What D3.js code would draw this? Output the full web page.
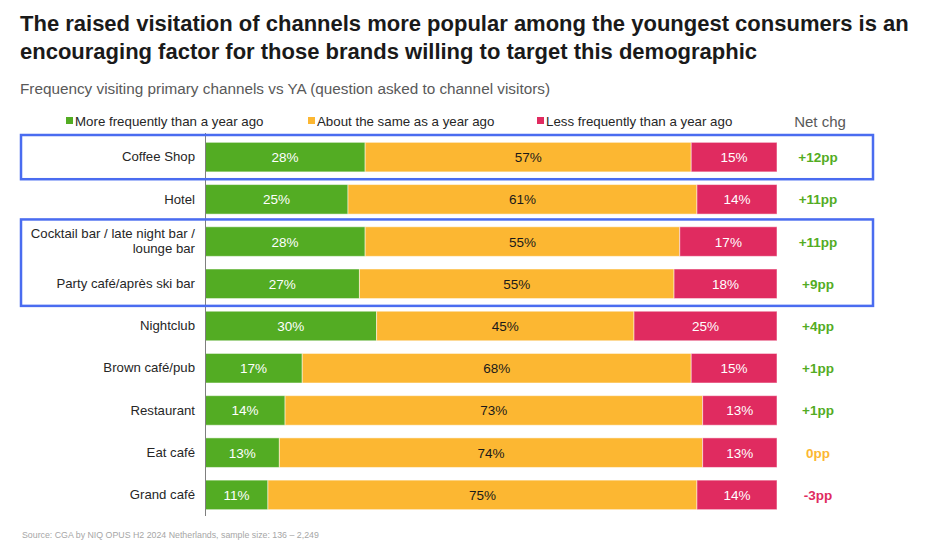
<!DOCTYPE html>
<html>
<head>
<meta charset="utf-8">
<script src="https://cdn.jsdelivr.net/npm/d3@7"></script>
<style>
  body { margin: 0; background: #fff; }
  svg { font-family: "Liberation Sans", Arial, sans-serif; }
</style>
</head>
<body>
<svg class="chart" width="932" height="545"></svg>
<script>
const channels = ['Coffee Shop', 'Hotel', 'Cocktail bar / late night bar / lounge bar',
  'Party café/après ski bar', 'Nightclub', 'Brown café/pub', 'Restaurant', 'Eat café', 'Grand café'];
const moreFreq = [28, 25, 28, 27, 30, 17, 14, 13, 11];
const sameFreq = [57, 61, 55, 55, 45, 68, 73, 74, 75];
const lessFreq = [15, 14, 17, 18, 25, 15, 13, 13, 14];
const netChg = [12, 11, 11, 9, 4, 1, 1, 0, -3];
const seriesNames = ['More frequently than a year ago', 'About the same as a year ago', 'Less frequently than a year ago'];
const highlighted = [['Coffee Shop', 'Coffee Shop'], ['Cocktail bar / late night bar / lounge bar', 'Party café/après ski bar']];

const colors = ['#53ac23', '#fcb732', '#e02b60'];
const svg = d3.select('.chart');

// title + subtitle
const title = svg.append('text').attr('x', 20).attr('font-weight', 'bold')
  .attr('font-size', 22).attr('fill', '#1a1a1a');
title.append('tspan').attr('x', 20).attr('y', 31)
  .text('The raised visitation of channels more popular among the youngest consumers is an');
title.append('tspan').attr('x', 20).attr('y', 59)
  .text('encouraging factor for those brands willing to target this demographic');

svg.append('text').attr('x', 20).attr('y', 94).attr('font-size', 15.3).attr('fill', '#595959')
  .text('Frequency visiting primary channels vs YA (question asked to channel visitors)');

// rows
const rows = channels.map((c, i) => ({channel: c, vals: [moreFreq[i], sameFreq[i], lessFreq[i]], net: netChg[i]}));

const x = d3.scaleLinear().domain([0, 100]).range([205, 777]);
const y = d3.scaleBand().domain(channels).range([136, 516]).paddingInner(0.3).paddingOuter(0.15);

// legend
const legendX = [66, 308, 537];
seriesNames.forEach((s, i) => {
  svg.append('rect').attr('x', legendX[i]).attr('y', 117).attr('width', 7).attr('height', 7).attr('fill', colors[i]);
  svg.append('text').attr('x', legendX[i] + 9).attr('y', 126).attr('font-size', 13.3).attr('fill', '#262626').text(s);
});
svg.append('text').attr('x', 820).attr('y', 127).attr('text-anchor', 'middle')
  .attr('font-size', 15).attr('fill', '#595959').text('Net chg');

// bars
const stacked = rows.map(r => {
  let acc = 0;
  return r.vals.map((v, k) => { const s = {row: r, k: k, v: v, x0: acc, x1: acc + v}; acc += v; return s; });
});

const rowG = svg.selectAll('g.row').data(stacked).enter().append('g').attr('class', 'row');

rowG.selectAll('rect').data(d => d).enter().append('rect')
  .attr('x', d => x(d.x0))
  .attr('y', d => y(d.row.channel))
  .attr('width', d => x(d.x1) - x(d.x0))
  .attr('height', y.bandwidth())
  .attr('fill', d => colors[d.k])
  .attr('stroke', '#fff').attr('stroke-opacity', 0.5).attr('stroke-width', 1);

rowG.selectAll('text').data(d => d).enter().append('text')
  .attr('x', d => (x(d.x0) + x(d.x1)) / 2)
  .attr('y', d => y(d.row.channel) + y.bandwidth() / 2 + 5)
  .attr('text-anchor', 'middle')
  .attr('font-size', 13.5)
  .attr('fill', d => d.k === 1 ? '#1a1a1a' : '#fff')
  .text(d => d.v + '%');

// category labels
const yAxis = d3.axisLeft(y).tickSize(0).tickPadding(10);
const axisG = svg.append('g').attr('transform', 'translate(205,0)').call(yAxis);
axisG.select('.domain').remove();
axisG.selectAll('.tick text').attr('font-size', 13.2).attr('fill', '#262626')
  .attr('font-family', '"Liberation Sans", Arial, sans-serif')
  .each(function(d) {
    const t = d3.select(this);
    if (d.indexOf('Cocktail') === 0) {
      t.text(null);
      t.append('tspan').attr('x', -10).attr('dy', '-0.25em').text('Cocktail bar / late night bar /');
      t.append('tspan').attr('x', -10).attr('dy', '1.1em').text('lounge bar');
    }
  });

svg.append('line').attr('x1', 205.5).attr('x2', 205.5).attr('y1', 133).attr('y2', 516)
  .attr('stroke', '#7f7f7f').attr('stroke-width', 1);

// net change
svg.selectAll('text.net').data(rows).enter().append('text').attr('class', 'net')
  .attr('x', 818)
  .attr('y', d => y(d.channel) + y.bandwidth() / 2 + 5)
  .attr('text-anchor', 'middle')
  .attr('font-size', 13.5).attr('font-weight', 'bold')
  .attr('fill', d => d.net > 0 ? '#53ac23' : (d.net === 0 ? '#fcb732' : '#e02b60'))
  .text(d => (d.net > 0 ? '+' : '') + d.net + 'pp');

// highlight boxes
highlighted.forEach(h => {
  const top = y(h[0]) - y.step() * y.paddingInner() / 2 - 1;
  const bot = y(h[1]) + y.bandwidth() + y.step() * y.paddingInner() / 2 + 1;
  svg.append('rect').attr('x', 21).attr('y', top).attr('width', 852).attr('height', bot - top)
    .attr('fill', 'none').attr('stroke', '#4a6cf0').attr('stroke-width', 2.5);
});

// source
svg.append('text').attr('x', 22).attr('y', 538).attr('font-size', 8.8).attr('fill', '#a6a6a6')
  .text('Source: CGA by NIQ OPUS H2 2024 Netherlands, sample size: 136 \u2013 2,249');
</script>
</body>
</html>
